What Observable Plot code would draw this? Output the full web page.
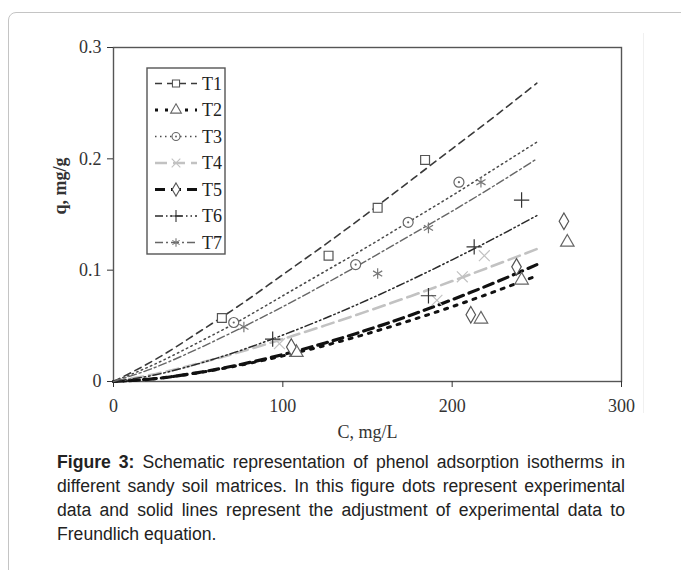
<!DOCTYPE html>
<html><head><meta charset="utf-8">
<script src="https://cdn.jsdelivr.net/npm/d3@7"></script>
<script src="https://cdn.jsdelivr.net/npm/@observablehq/plot@0.6"></script>
<style>
html,body{margin:0;padding:0;background:#fff;}
#page{position:relative;width:681px;height:570px;overflow:hidden;}
#card{position:absolute;left:8px;top:12px;width:700px;height:600px;border:1px solid #c4c4c4;border-radius:8px;}
#edge{position:absolute;left:643px;top:33px;width:0;height:380px;border-left:1px solid #f0f0f0;}
#chart{position:absolute;left:0;top:0;}
#caption{position:absolute;left:57px;top:450px;width:568px;font-family:"Liberation Sans",Arial,sans-serif;font-size:17.6px;line-height:24px;text-align:justify;color:#222;}
</style></head>
<body>
<div id="page">
  <div id="card"></div>
  <div id="edge"></div>
  <div id="chart"></div>
  <div id="caption"><b>Figure 3:</b> Schematic representation of phenol adsorption isotherms in different sandy soil matrices. In this figure dots represent experimental data and solid lines represent the adjustment of experimental data to Freundlich equation.</div>
</div>
<script>
// ---- data ----
const seriesNames = ["T1", "T2", "T3", "T4", "T5", "T6", "T7"];
const xTicks = [0, 100, 200, 300];
const yTicks = [0, 0.1, 0.2, 0.3];

// fitted (Freundlich) curves, sampled at these concentrations
const fitC = [0, 25, 50, 75, 100, 125, 150, 175, 200, 225, 250];
const fitT1 = [0, 0.020, 0.044, 0.069, 0.096, 0.123, 0.151, 0.180, 0.209, 0.238, 0.268];
const fitT2 = [0, 0.0027, 0.0078, 0.0147, 0.0230, 0.0324, 0.0430, 0.0547, 0.0672, 0.0807, 0.095];
const fitT3 = [0, 0.016, 0.035, 0.055, 0.077, 0.099, 0.121, 0.144, 0.167, 0.191, 0.215];
const fitT4 = [0, 0.0068, 0.0162, 0.0267, 0.0382, 0.0504, 0.0632, 0.0764, 0.0902, 0.1044, 0.119];
const fitT5 = [0, 0.0026, 0.0080, 0.0153, 0.0242, 0.0346, 0.0464, 0.0593, 0.0735, 0.0887, 0.105];
const fitT6 = [0, 0.0061, 0.0159, 0.0279, 0.0417, 0.0568, 0.0732, 0.0908, 0.1093, 0.1287, 0.149];
const fitT7 = [0, 0.0129, 0.0295, 0.0478, 0.0672, 0.0877, 0.109, 0.131, 0.153, 0.176, 0.200];

// experimental points
const expT1C = [64, 127, 156, 184];   const expT1q = [0.057, 0.113, 0.156, 0.199];
const expT2C = [108, 217, 241, 268];  const expT2q = [0.026, 0.056, 0.091, 0.125];
const expT3C = [71, 143, 174, 204];   const expT3q = [0.053, 0.105, 0.143, 0.179];
const expT4C = [98, 191, 206, 219];   const expT4q = [0.034, 0.073, 0.094, 0.113];
const expT5C = [105, 211, 238, 266];  const expT5q = [0.031, 0.060, 0.103, 0.144];
const expT6C = [94, 186, 213, 241];   const expT6q = [0.038, 0.077, 0.121, 0.163];
const expT7C = [77, 156, 186, 217];   const expT7q = [0.049, 0.097, 0.138, 0.179];

// ---- styles ----
const styles = {
  T1: {stroke: "#3a3a3a", dash: "7,5", width: 1.6, symbol: "square", mark: "#555"},
  T2: {stroke: "#111", dash: "3,7", width: 3, symbol: "triangle", mark: "#666"},
  T3: {stroke: "#4a4a4a", dash: "1.5,3.5", width: 1.5, symbol: "circle", mark: "#666"},
  T4: {stroke: "#c2c2c2", dash: "12,6", width: 2.6, symbol: "times", mark: "#c2c2c2"},
  T5: {stroke: "#111", dash: "10,6", width: 3.2, symbol: "diamond", mark: "#555"},
  T6: {stroke: "#2a2a2a", dash: "8,3,1.5,3,1.5,3", width: 1.5, symbol: "plus", mark: "#333"},
  T7: {stroke: "#666", dash: "8,3,2,3", width: 1.4, symbol: "asterisk", mark: "#777"}
};
const openSymbols = ["T4", "T6", "T7"];

const fits = {T1: fitT1, T2: fitT2, T3: fitT3, T4: fitT4, T5: fitT5, T6: fitT6, T7: fitT7};
const exps = {
  T1: [expT1C, expT1q], T2: [expT2C, expT2q], T3: [expT3C, expT3q], T4: [expT4C, expT4q],
  T5: [expT5C, expT5q], T6: [expT6C, expT6q], T7: [expT7C, expT7q]
};

const lineMarks = seriesNames.map(s => Plot.line(
  fitC.map((c, i) => ({C: c, q: fits[s][i]})),
  {x: "C", y: "q", stroke: styles[s].stroke, strokeWidth: styles[s].width,
   strokeDasharray: styles[s].dash, curve: "monotone-x"}));

const dotMarks = seriesNames.map(s => Plot.dot(
  exps[s][0].map((c, i) => ({C: c, q: exps[s][1][i]})),
  {x: "C", y: "q", symbol: () => styles[s].symbol, r: 5, stroke: styles[s].mark,
   strokeWidth: 1.2, fill: openSymbols.includes(s) ? "none" : "white"}));

const centerDots = Plot.dot(
  expT3C.map((c, i) => ({C: c, q: expT3q[i]})),
  {x: "C", y: "q", r: 1.1, fill: "#666", stroke: "none"});

const svg = Plot.plot({
  width: 660, height: 450,
  marginLeft: 113, marginRight: 39, marginTop: 47, marginBottom: 69,
  x: {domain: [0, 300]},
  y: {domain: [0, 0.3]},
  style: {fontFamily: "'Liberation Serif', 'Times New Roman', serif", fontSize: "18px", color: "#333", background: "transparent"},
  marks: [
    Plot.frame({stroke: "#555", strokeWidth: 1.4}),
    Plot.axisX({ticks: xTicks, tickSize: 6, tickPadding: 12, label: null, fontSize: 18, tickFormat: d => String(d)}),
    Plot.axisY({ticks: yTicks, tickSize: 6, tickPadding: 6, label: null, fontSize: 18, tickFormat: d => d === 0 ? "0" : d.toFixed(1)}),
    Plot.text(["C, mg/L"], {frameAnchor: "bottom", dy: 56, fontSize: 18, fill: "#333"}),
    Plot.text(["q, mg/g"], {frameAnchor: "left", dx: -53, rotate: -90, fontSize: 18, fontWeight: "bold", fill: "#333"}),
    ...lineMarks,
    ...dotMarks,
    centerDots
  ]
});

// legend
const symMap = {square: d3.symbolSquare, triangle: d3.symbolTriangle, circle: d3.symbolCircle,
  times: d3.symbolTimes, diamond: d3.symbolDiamond, plus: d3.symbolPlus, asterisk: d3.symbolAsterisk};
const lg = d3.select(svg).append("g");
lg.append("rect").attr("x", 147).attr("y", 68).attr("width", 78).attr("height", 186)
  .attr("fill", "white").attr("stroke", "#555").attr("stroke-width", 1.4);
seriesNames.forEach((s, i) => {
  const y = 83.5 + i * 26.5;
  const st = styles[s];
  lg.append("line").attr("x1", 155).attr("x2", 197).attr("y1", y).attr("y2", y)
    .attr("stroke", st.stroke).attr("stroke-width", st.width).attr("stroke-dasharray", st.dash);
  lg.append("path").attr("transform", `translate(176,${y})`)
    .attr("d", d3.symbol(symMap[st.symbol], 16 * Math.PI)())
    .attr("fill", openSymbols.includes(s) ? "none" : "white")
    .attr("stroke", st.mark).attr("stroke-width", 1.1);
  if (s === "T3") lg.append("circle").attr("cx", 176).attr("cy", y).attr("r", 1).attr("fill", "#666");
  lg.append("text").attr("x", 202).attr("y", y).attr("dy", "0.35em")
    .attr("text-anchor", "start")
    .attr("font-size", 18).attr("fill", "#222").text(s);
});

document.getElementById("chart").appendChild(svg);
</script>
</body></html>
